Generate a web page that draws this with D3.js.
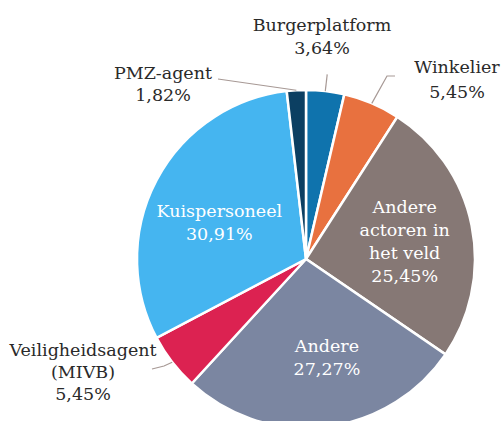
<!DOCTYPE html>
<html>
<head>
<meta charset="utf-8">
<script src="https://cdn.jsdelivr.net/npm/d3@7"></script>
<style>
  body { margin: 0; background: #fff; }
  text { font-family: "DejaVu Serif", "Liberation Serif", serif; }
</style>
</head>
<body>
<svg width="504" height="421"></svg>
<script>
// data
const categories = ['Burgerplatform', 'Winkelier', 'Andere actoren in het veld', 'Andere',
  'Veiligheidsagent (MIVB)', 'Kuispersoneel', 'PMZ-agent'];
const values = [3.64, 5.45, 25.45, 27.27, 5.45, 30.91, 1.82];
const valueLabels = ['3,64%', '5,45%', '25,45%', '27,27%', '5,45%', '30,91%', '1,82%'];
const labelLines = [
  ['Burgerplatform'], ['Winkelier'], ['Andere', 'actoren in', 'het veld'], ['Andere'],
  ['Veiligheidsagent', '(MIVB)'], ['Kuispersoneel'], ['PMZ-agent']
];
const colors = ['#0f73ad', '#e8713f', '#867875', '#7b86a1', '#dc2251', '#45b5f0', '#0b3f62'];

const svg = d3.select('svg');
const cx = 306, cy = 259, r = 169;
const fs = 17.5;
const g = svg.append('g').attr('transform', `translate(${cx},${cy})`);

const pie = d3.pie().sort(null).value(d => d);
const arcs = pie(values);
const arc = d3.arc().innerRadius(0).outerRadius(r);

g.selectAll('path')
  .data(arcs)
  .enter().append('path')
  .attr('d', arc)
  .attr('fill', (d, i) => colors[i])
  .attr('stroke', '#fff')
  .attr('stroke-width', 2.5);

// inside labels (big slices), nudged from the centroid
const inside = {2: [-4, 3], 3: [9, -6], 5: [6, 12]};
const labelArc = d3.arc().innerRadius(r * 0.62).outerRadius(r * 0.62);
const lh = 23;
Object.keys(inside).forEach(k => {
  const i = +k;
  const c = labelArc.centroid(arcs[i]);
  const lines = labelLines[i].concat([valueLabels[i]]);
  const x = c[0] + inside[k][0], y = c[1] + inside[k][1];
  const t = g.append('text')
    .attr('text-anchor', 'middle')
    .attr('fill', '#fff')
    .attr('font-size', fs);
  lines.forEach((s, j) => {
    t.append('tspan')
      .attr('x', x)
      .attr('y', y + (j - (lines.length - 1) / 2) * lh + 6)
      .text(s);
  });
});

// outside labels with leader lines
const edge = (d, k) => {
  const a = (d.startAngle + d.endAngle) / 2;
  return [Math.sin(a) * r * k, -Math.cos(a) * r * k];
};
const outside = [
  {i: 0, pts: d => [edge(d, 1.0), edge(d, 1.1)], tx: 16, ty: -228, lh: 23},
  {i: 1, pts: d => [edge(d, 1.0), [81, -183], [89, -183]], tx: 151, ty: -186, lh: 25},
  {i: 6, pts: d => [edge(d, 1.0), [-88, -180]], tx: -143, ty: -180, lh: 22},
  {i: 4, pts: d => [edge(d, 1.0), [-142, 107], [-154, 110]], tx: -223, ty: 97, lh: 22}
];
const line = d3.line();
outside.forEach(o => {
  const d = arcs[o.i];
  g.append('path')
    .attr('d', line(o.pts(d)))
    .attr('fill', 'none')
    .attr('stroke', '#a79995')
    .attr('stroke-width', 1.2);
  const lines = labelLines[o.i].concat([valueLabels[o.i]]);
  const t = g.append('text')
    .attr('text-anchor', 'middle')
    .attr('fill', '#2a2a2a')
    .attr('font-size', fs);
  lines.forEach((s, j) => {
    t.append('tspan')
      .attr('x', o.tx)
      .attr('y', o.ty + j * o.lh)
      .text(s);
  });
});
</script>
</body>
</html>
